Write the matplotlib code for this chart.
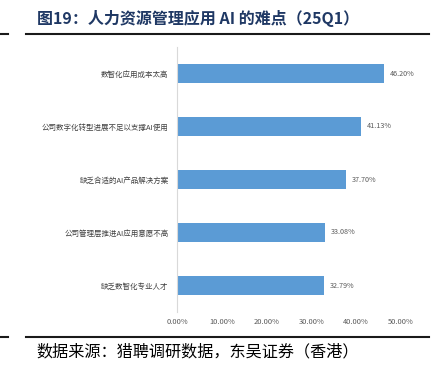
import matplotlib
matplotlib.use("Agg")
import matplotlib.pyplot as plt
from matplotlib.lines import Line2D

plt.rcParams['font.family'] = ['Noto Sans CJK SC', 'DejaVu Sans']

categories = ["数智化应用成本太高", "公司数字化转型进展不足以支撑AI使用", "缺乏合适的AI产品解决方案",
              "公司管理层推进AI应用意愿不高", "缺乏数智化专业人才"]
values = [46.20, 41.13, 37.70, 33.08, 32.79]
xticks = [0, 10, 20, 30, 40, 50]
title = "图19：人力资源管理应用 AI 的难点（25Q1）"
source = "数据来源：猎聘调研数据，东吴证券（香港）"

W, H = 441, 369
fig = plt.figure(figsize=(W/100, H/100), dpi=100)
ax = fig.add_axes([177/W, 1-312/H, (401-177)/W, 265/H])

y = list(range(len(categories)))[::-1]
ax.barh(y, values, height=0.36, color="#5b9bd5", zorder=2)
for yi, v in zip(y, values):
    ax.text(v + 1.3, yi, f"{v:.2f}%", va="center", ha="left", fontsize=5.2, color="#595959")

ax.set_xlim(0, 50)
ax.set_ylim(-0.5, 4.5)
ax.set_yticks(y)
ax.set_yticklabels(categories, fontsize=5.4, color="#404040")
ax.set_xticks(xticks)
ax.set_xticklabels([f"{t:.2f}%" for t in xticks], fontsize=5.4, color="#595959")
ax.tick_params(axis="x", length=0, pad=4)
ax.tick_params(axis="y", length=0, pad=6)
for s in ["top", "right", "bottom"]:
    ax.spines[s].set_visible(False)
ax.spines["left"].set_color("#d9d9d9")
ax.spines["left"].set_linewidth(0.8)

fig.text(37/W, 1-18.5/H, title, fontsize=11.5, fontweight="bold", color="#1f3864", va="center", ha="left")
fig.text(36/W, 1-352/H, source, fontsize=11.6, color="#000000", va="center", ha="left")

for yy in [34, 337]:
    fig.add_artist(Line2D([0, 8/W], [1-yy/H, 1-yy/H], color="#1a1a1a", lw=1.5, transform=fig.transFigure))
    fig.add_artist(Line2D([26/W, 429/W], [1-yy/H, 1-yy/H], color="#1a1a1a", lw=1.5, transform=fig.transFigure))

fig.savefig("out.png", dpi=100)
